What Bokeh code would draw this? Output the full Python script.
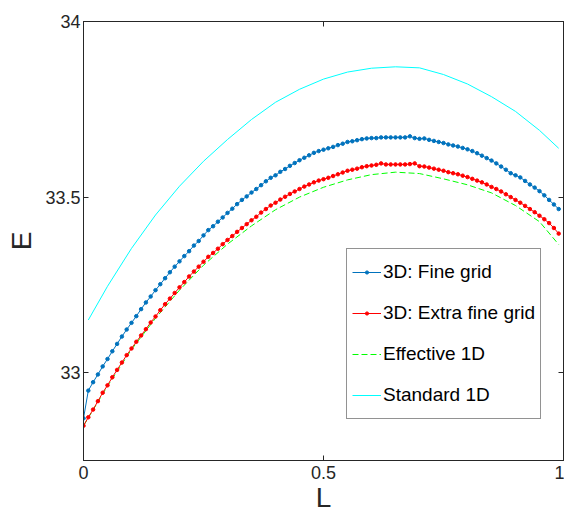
from bokeh.plotting import figure
from bokeh.models import Range1d, FixedTicker, LinearAxis, Legend, LegendItem, CustomJSTickFormatter
from bokeh.embed import file_html
from bokeh.resources import INLINE

# ---------------- data ----------------
L_grid = [0.00, 0.01, 0.02, 0.03, 0.04, 0.05, 0.06, 0.07, 0.08, 0.09,
          0.10, 0.11, 0.12, 0.13, 0.14, 0.15, 0.16, 0.17, 0.18, 0.19,
          0.20, 0.21, 0.22, 0.23, 0.24, 0.25, 0.26, 0.27, 0.28, 0.29,
          0.30, 0.31, 0.32, 0.33, 0.34, 0.35, 0.36, 0.37, 0.38, 0.39,
          0.40, 0.41, 0.42, 0.43, 0.44, 0.45, 0.46, 0.47, 0.48, 0.49,
          0.50, 0.51, 0.52, 0.53, 0.54, 0.55, 0.56, 0.57, 0.58, 0.59,
          0.60, 0.61, 0.62, 0.63, 0.64, 0.65, 0.66, 0.67, 0.68, 0.69,
          0.70, 0.71, 0.72, 0.73, 0.74, 0.75, 0.76, 0.77, 0.78, 0.79,
          0.80, 0.81, 0.82, 0.83, 0.84, 0.85, 0.86, 0.87, 0.88, 0.89,
          0.90, 0.91, 0.92, 0.93, 0.94, 0.95, 0.96, 0.97, 0.98, 0.99]

E_fine = [32.870, 32.949, 32.973, 32.995, 33.018, 33.039, 33.061, 33.082, 33.103, 33.123,
          33.142, 33.161, 33.181, 33.200, 33.217, 33.235, 33.252, 33.269, 33.286, 33.302,
          33.317, 33.332, 33.346, 33.362, 33.375, 33.391, 33.406, 33.417, 33.430, 33.442,
          33.455, 33.467, 33.480, 33.492, 33.502, 33.513, 33.523, 33.534, 33.545, 33.555,
          33.562, 33.572, 33.580, 33.589, 33.597, 33.605, 33.612, 33.619, 33.626, 33.631,
          33.635, 33.639, 33.643, 33.648, 33.652, 33.657, 33.659, 33.662, 33.665, 33.667,
          33.668, 33.668, 33.670, 33.670, 33.670, 33.670, 33.670, 33.670, 33.673, 33.668,
          33.666, 33.667, 33.663, 33.660, 33.657, 33.654, 33.650, 33.647, 33.644, 33.640,
          33.636, 33.631, 33.625, 33.618, 33.611, 33.604, 33.596, 33.587, 33.578, 33.568,
          33.562, 33.556, 33.546, 33.536, 33.527, 33.517, 33.505, 33.492, 33.479, 33.466]

E_extra = [32.849, 32.873, 32.895, 32.919, 32.943, 32.964, 32.987, 33.008, 33.029, 33.050,
           33.069, 33.088, 33.106, 33.124, 33.143, 33.160, 33.178, 33.195, 33.211, 33.227,
           33.243, 33.258, 33.274, 33.288, 33.302, 33.316, 33.330, 33.341, 33.353, 33.366,
           33.378, 33.389, 33.401, 33.412, 33.423, 33.434, 33.444, 33.456, 33.466, 33.476,
           33.484, 33.493, 33.501, 33.509, 33.516, 33.523, 33.530, 33.536, 33.542, 33.547,
           33.551, 33.555, 33.560, 33.565, 33.570, 33.575, 33.578, 33.581, 33.585, 33.588,
           33.590, 33.592, 33.596, 33.593, 33.593, 33.593, 33.593, 33.593, 33.594, 33.596,
           33.588, 33.587, 33.584, 33.581, 33.578, 33.575, 33.571, 33.568, 33.565, 33.561,
           33.557, 33.552, 33.547, 33.542, 33.536, 33.529, 33.523, 33.516, 33.508, 33.500,
           33.492, 33.484, 33.475, 33.466, 33.457, 33.447, 33.437, 33.426, 33.412, 33.396]

L_eff = [0.00, 0.05, 0.10, 0.15, 0.20, 0.25, 0.30, 0.35, 0.40, 0.45, 0.50,
         0.55, 0.60, 0.65, 0.70, 0.75, 0.80, 0.85, 0.90, 0.95, 0.99]
E_eff = [32.849, 32.962, 33.066, 33.155, 33.235, 33.306, 33.366, 33.418, 33.464, 33.500, 33.528,
         33.549, 33.564, 33.571, 33.567, 33.552, 33.535, 33.512, 33.476, 33.430, 33.365]

L_std = [0.01, 0.05, 0.10, 0.15, 0.20, 0.25, 0.30, 0.35, 0.40, 0.45, 0.50,
         0.55, 0.60, 0.65, 0.70, 0.75, 0.80, 0.85, 0.90, 0.95, 0.99]
E_std = [33.150, 33.246, 33.354, 33.449, 33.531, 33.602, 33.664, 33.721, 33.770, 33.807, 33.836,
         33.856, 33.867, 33.871, 33.868, 33.849, 33.822, 33.786, 33.744, 33.690, 33.639]

x_ticks = [0, 0.5, 1]
x_tick_labels = ["0", "0.5", "1"]
y_ticks = [33, 33.5, 34]
y_tick_labels = ["33", "33.5", "34"]

series_names = ["3D: Fine grid", "3D: Extra fine grid", "Effective 1D", "Standard 1D"]

# ---------------- styling ----------------
FONT = "Liberation Sans"
AX = "#262626"
C_BLUE = "#0072BD"
C_RED = "#FF0000"
C_GREEN = "#00FF00"
C_CYAN = "#00FFFF"

p = figure(width=564, height=518,
           x_range=Range1d(0, 1), y_range=Range1d(32.75, 34),
           output_backend="svg", toolbar_location=None,
           min_border_left=83, min_border_right=1,
           min_border_top=21, min_border_bottom=58,
           background_fill_color="white", border_fill_color="white")
p.grid.visible = False
p.outline_line_color = AX
p.outline_line_width = 1

# main axes
for ax, ticks, labels in ((p.xaxis[0], x_ticks, x_tick_labels), (p.yaxis[0], y_ticks, y_tick_labels)):
    ax.ticker = FixedTicker(ticks=ticks, minor_ticks=[])
    ax.major_label_overrides = {t: s for t, s in zip(ticks, labels)}
    ax.major_tick_in = 5
    ax.major_tick_out = 0
    ax.minor_tick_line_color = None
    ax.axis_line_color = AX
    ax.major_tick_line_color = AX
    ax.major_label_text_font = FONT
    ax.major_label_text_font_size = "18px"
    ax.major_label_text_color = AX
    ax.axis_label_text_font = FONT
    ax.axis_label_text_font_size = "28px"
    ax.axis_label_text_font_style = "normal"
    ax.axis_label_text_color = AX

p.xaxis[0].axis_label = "L"
p.xaxis[0].major_label_standoff = 5
p.xaxis[0].axis_label_standoff = 0
p.yaxis[0].axis_label = "E"
p.yaxis[0].major_label_standoff = 3
p.yaxis[0].axis_label_standoff = 5

# box ticks on top and right
blank = CustomJSTickFormatter(code="return '';")
top_ax = LinearAxis(ticker=FixedTicker(ticks=x_ticks, minor_ticks=[]), formatter=blank)
right_ax = LinearAxis(ticker=FixedTicker(ticks=y_ticks, minor_ticks=[]), formatter=blank)
for ax in (top_ax, right_ax):
    ax.major_tick_in = 5
    ax.major_tick_out = 0
    ax.minor_tick_line_color = None
    ax.axis_line_color = AX
    ax.major_tick_line_color = AX
    ax.major_label_standoff = 0
    ax.major_label_text_font_size = "1px"
p.add_layout(top_ax, "above")
p.add_layout(right_ax, "right")

# ---------------- series ----------------
r_std = p.line(L_std, E_std, line_color=C_CYAN, line_width=1)
r_eff = p.line(L_eff, E_eff, line_color=C_GREEN, line_width=1, line_dash="6 3")
r_ex_l = p.line(L_grid, E_extra, line_color=C_RED, line_width=1)
r_ex_m = p.scatter(L_grid, E_extra, marker="circle", size=3.5, fill_color=C_RED, line_color=C_RED)
r_fi_l = p.line(L_grid, E_fine, line_color=C_BLUE, line_width=1)
r_fi_m = p.scatter(L_grid, E_fine, marker="circle", size=3.5, fill_color=C_BLUE, line_color=C_BLUE)

legend = Legend(items=[
    LegendItem(label=series_names[0], renderers=[r_fi_l, r_fi_m]),
    LegendItem(label=series_names[1], renderers=[r_ex_l, r_ex_m]),
    LegendItem(label=series_names[2], renderers=[r_eff]),
    LegendItem(label=series_names[3], renderers=[r_std]),
], location=(263, 41))
legend.margin = 0
legend.padding = 5
legend.spacing = 5
legend.glyph_width = 29
legend.glyph_height = 8
legend.label_height = 36
legend.label_standoff = 2
legend.label_text_font = FONT
legend.label_text_font_size = "19px"
legend.label_text_color = "#000000"
legend.border_line_color = AX
legend.border_line_width = 1
legend.background_fill_color = "white"
legend.background_fill_alpha = 1
p.add_layout(legend, "center")

open("out.html", "w").write(file_html(p, INLINE))
